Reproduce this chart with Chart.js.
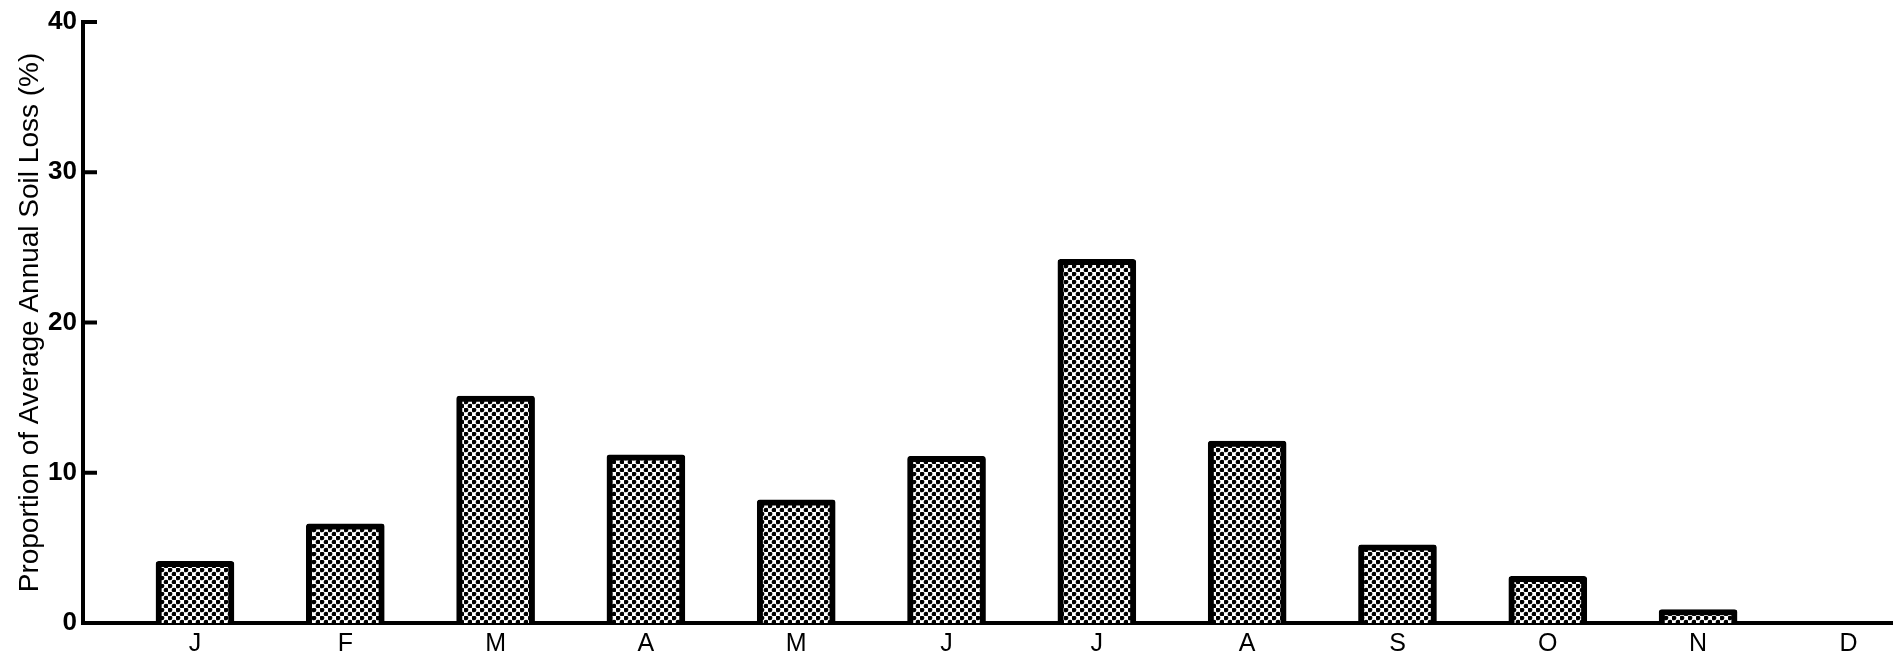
<!DOCTYPE html>
<html>
<head>
<meta charset="utf-8">
<script src="https://cdn.jsdelivr.net/npm/chart.js@4/dist/chart.umd.min.js"></script>
<style>
  html, body { margin: 0; padding: 0; background: #fff; }
  #wrap { width: 1895px; height: 658px; }
</style>
</head>
<body>
<div id="wrap"><canvas id="c" width="1895" height="658"></canvas></div>
<script>
const months = ['J','F','M','A','M','J','J','A','S','O','N','D'];
const soilLoss = [4.1, 6.6, 15.1, 11.2, 8.2, 11.1, 24.2, 12.1, 5.2, 3.1, 0.9, 0];
const yTicks = [0, 10, 20, 30, 40];
const yTitle = 'Proportion of Average Annual Soil Loss (%)';

// dotted halftone fill
function makeDots() {
  const t = document.createElement('canvas');
  t.width = 8; t.height = 8;
  const g = t.getContext('2d');
  g.fillStyle = '#fff';
  g.fillRect(0, 0, 8, 8);
  g.fillStyle = '#000';
  [[2, 2], [6, 6]].forEach(([x, y]) => {
    g.beginPath(); g.arc(x, y, 2.35, 0, Math.PI * 2); g.fill();
  });
  return document.getElementById('c').getContext('2d').createPattern(t, 'repeat');
}

const innerTicks = {
  id: 'innerTicks',
  afterDraw(chart) {
    const ys = chart.scales.y;
    const ctx = chart.ctx;
    ctx.save();
    ctx.strokeStyle = '#000';
    ctx.lineWidth = 4;
    yTicks.forEach(v => {
      if (v === 0) return;
      const py = ys.getPixelForValue(v);
      ctx.beginPath();
      ctx.moveTo(ys.right, py);
      ctx.lineTo(ys.right + 14, py);
      ctx.stroke();
    });
    ctx.restore();
  }
};

new Chart(document.getElementById('c'), {
  type: 'bar',
  data: {
    datasets: [{
      data: soilLoss.map((v, i) => ({ x: i, y: v })),
      backgroundColor: makeDots(),
      borderColor: '#000',
      borderWidth: 6,
      borderRadius: 3,
      borderSkipped: 'start',
      barThickness: 78
    }]
  },
  options: {
    responsive: false,
    animation: false,
    devicePixelRatio: 1,
    layout: { padding: { top: 22, right: 3, left: 0, bottom: 0 } },
    plugins: { legend: { display: false }, tooltip: { enabled: false } },
    scales: {
      x: {
        type: 'linear',
        offset: false,
        min: -0.745,
        max: 11.29,
        grid: { display: false, drawTicks: false, offset: false },
        border: { display: true, color: '#000', width: 4 },
        afterBuildTicks: s => { s.ticks = months.map((m, i) => ({ value: i })); },
        afterFit: s => { s.height = 35; },
        ticks: {
          autoSkip: false,
          maxRotation: 0,
          padding: 6,
          color: '#000',
          font: { family: 'Liberation Sans, Arial, sans-serif', size: 25 },
          callback: v => months[v]
        }
      },
      y: {
        min: 0,
        max: 40,
        grid: { display: false, drawTicks: false },
        border: { display: true, color: '#000', width: 4 },
        afterBuildTicks: s => { s.ticks = yTicks.map(v => ({ value: v })); },
        afterFit: s => { s.width = 83; },
        ticks: {
          padding: 6,
          color: '#000',
          font: { family: 'Liberation Sans, Arial, sans-serif', size: 26, weight: 'bold' }
        },
        title: {
          display: true,
          text: yTitle,
          color: '#000',
          padding: { top: 13, bottom: 0 },
          font: { family: 'Liberation Sans, Arial, sans-serif', size: 28, lineHeight: 1.2 }
        }
      }
    }
  },
  plugins: [innerTicks]
});
</script>
</body>
</html>
